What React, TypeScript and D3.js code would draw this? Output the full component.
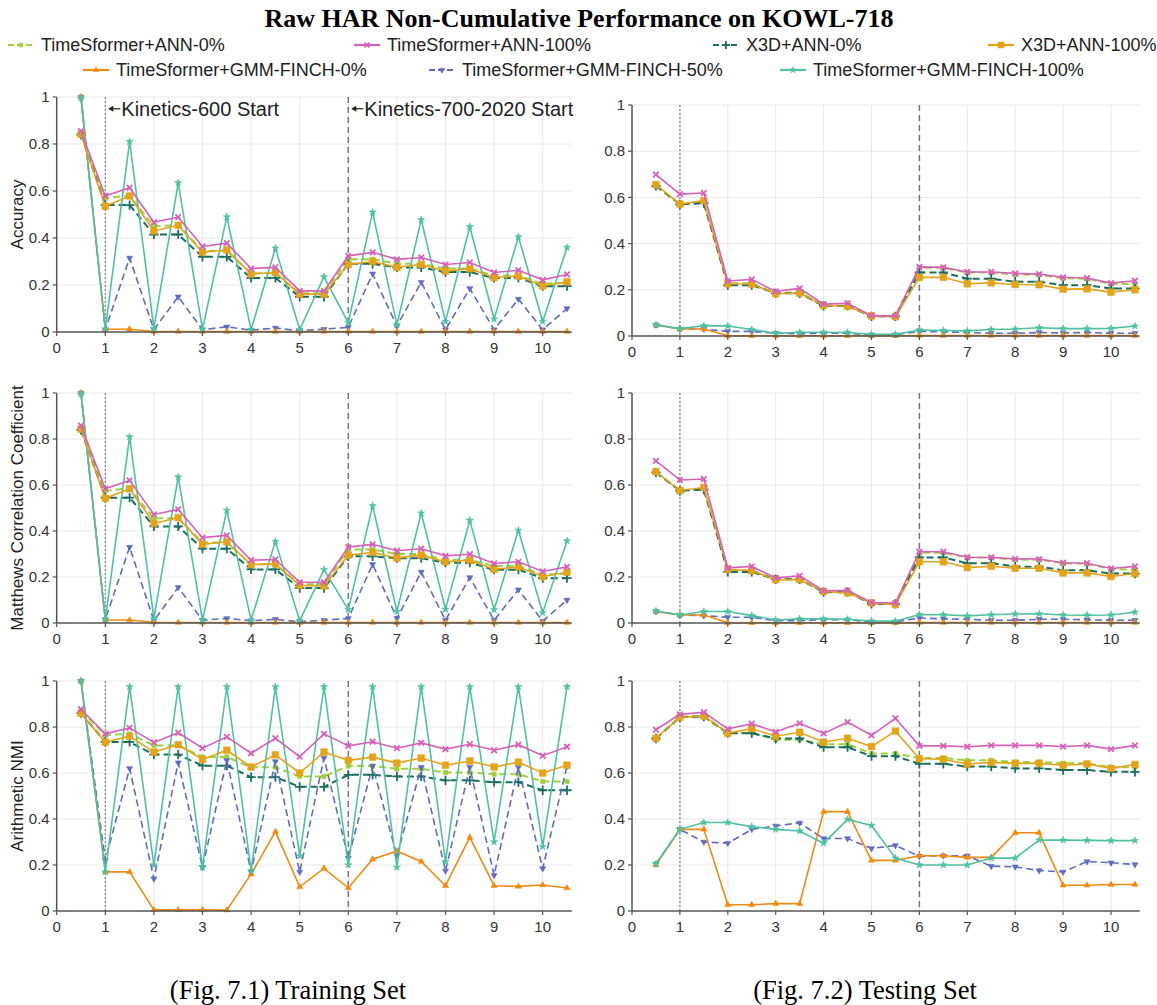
import React from 'react';
import * as d3 from 'd3';

// ---------- data ----------
const X = [0.5, 1, 1.5, 2, 2.5, 3, 3.5, 4, 4.5, 5, 5.5, 6, 6.5, 7, 7.5, 8, 8.5, 9, 9.5, 10, 10.5];

const SERIES = [
  'TimeSformer+ANN-0%',
  'TimeSformer+ANN-100%',
  'X3D+ANN-0%',
  'X3D+ANN-100%',
  'TimeSformer+GMM-FINCH-0%',
  'TimeSformer+GMM-FINCH-50%',
  'TimeSformer+GMM-FINCH-100%',
];

const Y_TICKS = [0, 0.2, 0.4, 0.6, 0.8, 1];
const X_TICKS = [0, 1, 2, 3, 4, 5, 6, 7, 8, 9, 10];

// Training accuracy
const trainAccTsAnn0 = [0.845, 0.57, 0.58, 0.45, 0.455, 0.345, 0.345, 0.25, 0.25, 0.165, 0.165, 0.31, 0.31, 0.29, 0.29, 0.27, 0.27, 0.24, 0.24, 0.205, 0.21];
const trainAccTsAnn100 = [0.855, 0.579, 0.614, 0.467, 0.489, 0.364, 0.378, 0.27, 0.275, 0.175, 0.175, 0.324, 0.339, 0.309, 0.317, 0.287, 0.296, 0.253, 0.263, 0.222, 0.245];
const trainAccX3dAnn0 = [0.84, 0.54, 0.54, 0.415, 0.415, 0.32, 0.32, 0.23, 0.23, 0.15, 0.15, 0.29, 0.29, 0.275, 0.275, 0.255, 0.255, 0.23, 0.23, 0.195, 0.195];
const trainAccX3dAnn100 = [0.842, 0.535, 0.579, 0.43, 0.454, 0.339, 0.35, 0.247, 0.253, 0.161, 0.161, 0.287, 0.3, 0.275, 0.287, 0.259, 0.269, 0.232, 0.238, 0.196, 0.213];
const trainAccGmm0 = [1, 0.012, 0.012, 0.002, 0.002, 0.002, 0.002, 0.002, 0.002, 0.002, 0.002, 0.002, 0.002, 0.002, 0.002, 0.002, 0.002, 0.002, 0.002, 0.002, 0.002];
const trainAccGmm50 = [1, 0.01, 0.315, 0.01, 0.15, 0.01, 0.022, 0.008, 0.017, 0.005, 0.012, 0.02, 0.248, 0.025, 0.212, 0.01, 0.185, 0.01, 0.14, 0.01, 0.1];
const trainAccGmm100 = [0.995, 0.012, 0.81, 0.015, 0.635, 0.012, 0.49, 0.01, 0.357, 0.01, 0.235, 0.04, 0.51, 0.03, 0.478, 0.045, 0.448, 0.055, 0.405, 0.045, 0.36];

// Testing accuracy
const testAccTsAnn0 = [0.652, 0.57, 0.58, 0.228, 0.228, 0.186, 0.19, 0.132, 0.132, 0.086, 0.086, 0.295, 0.295, 0.275, 0.275, 0.265, 0.265, 0.25, 0.248, 0.225, 0.225];
const testAccTsAnn100 = [0.699, 0.614, 0.619, 0.238, 0.245, 0.193, 0.206, 0.138, 0.142, 0.088, 0.087, 0.299, 0.297, 0.277, 0.277, 0.271, 0.268, 0.254, 0.251, 0.229, 0.239];
const testAccX3dAnn0 = [0.65, 0.57, 0.575, 0.22, 0.22, 0.185, 0.185, 0.13, 0.13, 0.085, 0.085, 0.275, 0.275, 0.248, 0.248, 0.235, 0.235, 0.22, 0.22, 0.206, 0.206];
const testAccX3dAnn100 = [0.655, 0.571, 0.586, 0.226, 0.225, 0.183, 0.186, 0.132, 0.129, 0.087, 0.084, 0.254, 0.254, 0.226, 0.23, 0.223, 0.222, 0.203, 0.204, 0.19, 0.2];
const testAccGmm0 = [0.048, 0.03, 0.03, 0.001, 0.001, 0.001, 0.001, 0.001, 0.001, 0.001, 0.001, 0.002, 0.002, 0.002, 0.002, 0.002, 0.002, 0.002, 0.002, 0.002, 0.002];
const testAccGmm50 = [0.048, 0.03, 0.03, 0.02, 0.02, 0.012, 0.01, 0.012, 0.012, 0.005, 0.005, 0.02, 0.018, 0.015, 0.012, 0.012, 0.015, 0.013, 0.015, 0.012, 0.012];
const testAccGmm100 = [0.048, 0.032, 0.045, 0.043, 0.028, 0.012, 0.016, 0.016, 0.015, 0.007, 0.007, 0.026, 0.024, 0.022, 0.028, 0.03, 0.036, 0.032, 0.032, 0.033, 0.043];

// Training MCC
const trainMccTsAnn0 = [0.845, 0.575, 0.585, 0.455, 0.455, 0.35, 0.35, 0.255, 0.255, 0.168, 0.168, 0.32, 0.32, 0.3, 0.3, 0.275, 0.275, 0.248, 0.248, 0.21, 0.215];
const trainMccTsAnn100 = [0.858, 0.584, 0.62, 0.472, 0.494, 0.371, 0.381, 0.273, 0.276, 0.177, 0.177, 0.33, 0.342, 0.314, 0.323, 0.292, 0.299, 0.259, 0.266, 0.224, 0.244];
const trainMccX3dAnn0 = [0.84, 0.545, 0.545, 0.42, 0.42, 0.323, 0.323, 0.233, 0.233, 0.152, 0.152, 0.29, 0.29, 0.282, 0.282, 0.262, 0.262, 0.232, 0.232, 0.195, 0.195];
const trainMccX3dAnn100 = [0.843, 0.542, 0.584, 0.433, 0.458, 0.342, 0.353, 0.254, 0.257, 0.164, 0.161, 0.295, 0.307, 0.283, 0.295, 0.266, 0.273, 0.234, 0.243, 0.202, 0.221];
const trainMccGmm0 = [1, 0.013, 0.013, 0.003, 0.002, 0.002, 0.002, 0.002, 0.002, 0.002, 0.002, 0.002, 0.002, 0.002, 0.002, 0.002, 0.002, 0.002, 0.002, 0.002, 0.002];
const trainMccGmm50 = [1, 0.015, 0.33, 0.01, 0.155, 0.012, 0.02, 0.01, 0.016, 0.005, 0.012, 0.02, 0.255, 0.02, 0.222, 0.012, 0.198, 0.012, 0.145, 0.008, 0.1];
const trainMccGmm100 = [0.995, 0.015, 0.81, 0.02, 0.635, 0.012, 0.49, 0.012, 0.355, 0.01, 0.232, 0.058, 0.51, 0.05, 0.478, 0.06, 0.447, 0.058, 0.403, 0.045, 0.357];

// Testing MCC
const testMccTsAnn0 = [0.656, 0.575, 0.585, 0.23, 0.228, 0.19, 0.19, 0.136, 0.134, 0.086, 0.084, 0.305, 0.305, 0.285, 0.285, 0.275, 0.275, 0.26, 0.258, 0.235, 0.232];
const testMccTsAnn100 = [0.705, 0.622, 0.626, 0.24, 0.246, 0.196, 0.205, 0.14, 0.142, 0.089, 0.087, 0.31, 0.31, 0.286, 0.285, 0.279, 0.278, 0.262, 0.26, 0.237, 0.246];
const testMccX3dAnn0 = [0.655, 0.575, 0.58, 0.222, 0.222, 0.19, 0.19, 0.134, 0.134, 0.083, 0.083, 0.285, 0.285, 0.26, 0.26, 0.245, 0.245, 0.229, 0.229, 0.215, 0.215];
const testMccX3dAnn100 = [0.658, 0.576, 0.589, 0.233, 0.227, 0.188, 0.189, 0.137, 0.131, 0.087, 0.08, 0.266, 0.266, 0.241, 0.247, 0.238, 0.238, 0.218, 0.218, 0.202, 0.215];
const testMccGmm0 = [0.05, 0.035, 0.035, 0.001, 0.001, 0.001, 0.001, 0.001, 0.001, 0.001, 0.001, 0.002, 0.002, 0.002, 0.002, 0.002, 0.002, 0.002, 0.002, 0.002, 0.002];
const testMccGmm50 = [0.05, 0.035, 0.032, 0.025, 0.025, 0.01, 0.01, 0.014, 0.014, 0.005, 0.005, 0.022, 0.018, 0.016, 0.012, 0.012, 0.016, 0.016, 0.014, 0.012, 0.012];
const testMccGmm100 = [0.052, 0.035, 0.05, 0.05, 0.032, 0.013, 0.018, 0.018, 0.016, 0.008, 0.008, 0.037, 0.036, 0.031, 0.036, 0.039, 0.04, 0.035, 0.034, 0.035, 0.047];

// Training NMI
const trainNmiTsAnn0 = [0.87, 0.765, 0.77, 0.72, 0.72, 0.67, 0.67, 0.625, 0.625, 0.585, 0.585, 0.63, 0.63, 0.618, 0.618, 0.602, 0.602, 0.595, 0.595, 0.563, 0.563];
const trainNmiTsAnn100 = [0.877, 0.77, 0.796, 0.733, 0.775, 0.708, 0.757, 0.686, 0.751, 0.671, 0.77, 0.718, 0.736, 0.708, 0.731, 0.704, 0.725, 0.699, 0.723, 0.675, 0.714];
const trainNmiX3dAnn0 = [0.86, 0.735, 0.735, 0.68, 0.68, 0.632, 0.632, 0.582, 0.582, 0.54, 0.54, 0.592, 0.592, 0.585, 0.585, 0.568, 0.568, 0.56, 0.56, 0.525, 0.525];
const trainNmiX3dAnn100 = [0.86, 0.734, 0.76, 0.691, 0.723, 0.659, 0.699, 0.626, 0.679, 0.6, 0.691, 0.655, 0.669, 0.643, 0.665, 0.634, 0.652, 0.626, 0.647, 0.6, 0.634];
const trainNmiGmm0 = [1, 0.17, 0.17, 0.005, 0.005, 0.005, 0.004, 0.16, 0.345, 0.105, 0.185, 0.1, 0.225, 0.26, 0.215, 0.11, 0.32, 0.11, 0.107, 0.113, 0.1];
const trainNmiGmm50 = [1, 0.22, 0.62, 0.14, 0.645, 0.19, 0.655, 0.17, 0.65, 0.17, 0.665, 0.23, 0.63, 0.24, 0.625, 0.175, 0.625, 0.155, 0.625, 0.185, 0.63];
const trainNmiGmm100 = [1, 0.17, 0.975, 0.2, 0.975, 0.19, 0.975, 0.175, 0.975, 0.24, 0.975, 0.2, 0.975, 0.19, 0.975, 0.215, 0.975, 0.3, 0.975, 0.28, 0.975];

// Testing NMI
const testNmiTsAnn0 = [0.75, 0.845, 0.85, 0.775, 0.775, 0.745, 0.745, 0.725, 0.725, 0.685, 0.685, 0.665, 0.665, 0.655, 0.655, 0.648, 0.648, 0.642, 0.642, 0.625, 0.625];
const testNmiTsAnn100 = [0.788, 0.855, 0.864, 0.792, 0.814, 0.779, 0.816, 0.772, 0.821, 0.764, 0.838, 0.718, 0.718, 0.714, 0.72, 0.72, 0.72, 0.715, 0.72, 0.704, 0.72];
const testNmiX3dAnn0 = [0.75, 0.842, 0.845, 0.773, 0.773, 0.75, 0.75, 0.712, 0.712, 0.673, 0.673, 0.64, 0.64, 0.628, 0.628, 0.62, 0.62, 0.613, 0.613, 0.605, 0.605];
const testNmiX3dAnn100 = [0.751, 0.842, 0.848, 0.773, 0.793, 0.76, 0.777, 0.734, 0.751, 0.715, 0.782, 0.662, 0.66, 0.639, 0.646, 0.642, 0.642, 0.634, 0.639, 0.62, 0.637];
const testNmiGmm0 = [0.2, 0.355, 0.355, 0.027, 0.027, 0.032, 0.032, 0.432, 0.432, 0.22, 0.22, 0.24, 0.24, 0.233, 0.233, 0.34, 0.34, 0.112, 0.112, 0.115, 0.115];
const testNmiGmm50 = [0.205, 0.355, 0.3, 0.295, 0.355, 0.37, 0.383, 0.315, 0.315, 0.272, 0.285, 0.238, 0.24, 0.24, 0.195, 0.192, 0.176, 0.17, 0.215, 0.21, 0.202];
const testNmiGmm100 = [0.205, 0.355, 0.385, 0.385, 0.367, 0.355, 0.348, 0.295, 0.398, 0.372, 0.23, 0.2, 0.2, 0.2, 0.23, 0.23, 0.308, 0.308, 0.307, 0.306, 0.306];

const PANEL_DATA = {
  trainAcc: [trainAccTsAnn0, trainAccTsAnn100, trainAccX3dAnn0, trainAccX3dAnn100, trainAccGmm0, trainAccGmm50, trainAccGmm100],
  testAcc: [testAccTsAnn0, testAccTsAnn100, testAccX3dAnn0, testAccX3dAnn100, testAccGmm0, testAccGmm50, testAccGmm100],
  trainMcc: [trainMccTsAnn0, trainMccTsAnn100, trainMccX3dAnn0, trainMccX3dAnn100, trainMccGmm0, trainMccGmm50, trainMccGmm100],
  testMcc: [testMccTsAnn0, testMccTsAnn100, testMccX3dAnn0, testMccX3dAnn100, testMccGmm0, testMccGmm50, testMccGmm100],
  trainNmi: [trainNmiTsAnn0, trainNmiTsAnn100, trainNmiX3dAnn0, trainNmiX3dAnn100, trainNmiGmm0, trainNmiGmm50, trainNmiGmm100],
  testNmi: [testNmiTsAnn0, testNmiTsAnn100, testNmiX3dAnn0, testNmiX3dAnn100, testNmiGmm0, testNmiGmm50, testNmiGmm100],
};

// ---------- styles ----------
type Style = { color: string; dash?: string; symbol: string; size: number; width: number };
const STYLES: Style[] = [
  { color: '#9fd03c', dash: '7,4', symbol: 'square', size: 18, width: 2 },
  { color: '#d462b8', symbol: 'times', size: 22, width: 1.6 },
  { color: '#1d6e5e', dash: '7,4', symbol: 'plus', size: 30, width: 2 },
  { color: '#e3a41c', symbol: 'square', size: 44, width: 1.6 },
  { color: '#f08a12', symbol: 'triUp', size: 16, width: 1.6 },
  { color: '#5f6cbe', dash: '7,4', symbol: 'triDown', size: 16, width: 1.6 },
  { color: '#4fc1a0', symbol: 'star', size: 16, width: 1.6 },
];
const DRAW_ORDER = [0, 2, 5, 4, 6, 3, 1];

const FONT = '"Liberation Sans", Arial, sans-serif';
const SERIF = '"Liberation Serif", "Times New Roman", serif';

function Marker({ kind, x, y, size, color }: { kind: string; x: number; y: number; size: number; color: string }) {
  let path = '';
  let stroke = false;
  if (kind === 'square') path = d3.symbol().type(d3.symbolSquare).size(size)()!;
  else if (kind === 'times') { path = d3.symbol().type(d3.symbolTimes).size(size)()!; stroke = true; }
  else if (kind === 'plus') { path = d3.symbol().type(d3.symbolPlus).size(size)()!; stroke = true; }
  else if (kind === 'triUp') path = d3.symbol().type(d3.symbolTriangle).size(size)()!;
  else if (kind === 'triDown') path = d3.symbol().type(d3.symbolTriangle).size(size)()!;
  else if (kind === 'star') path = d3.symbol().type(d3.symbolStar).size(size)()!;
  const rot = kind === 'triDown' ? ' rotate(180)' : '';
  return (
    <path
      d={path}
      transform={`translate(${x},${y})${rot}`}
      fill={stroke ? 'none' : color}
      stroke={color}
      strokeWidth={stroke ? 1.8 : 0.6}
    />
  );
}

type PanelProps = {
  dataKey: keyof typeof PANEL_DATA;
  x0: number;
  unit: number;
  yTop: number;
  yBot: number;
  ylabel?: string;
  annotate?: boolean;
};

function Panel({ dataKey, x0, unit, yTop, yBot, ylabel, annotate }: PanelProps) {
  const xs = d3.scaleLinear().domain([0, 10.6]).range([x0, x0 + unit * 10.6]);
  const ys = d3.scaleLinear().domain([0, 1]).range([yBot, yTop]);
  const [xMin, xMax] = xs.range();
  const series = PANEL_DATA[dataKey];
  const line = d3
    .line<number>()
    .x((_, i) => xs(X[i]))
    .y((d) => ys(d));
  return (
    <g>
      {X_TICKS.filter((t) => t > 0).map((t) => (
        <line key={'gx' + t} x1={xs(t)} x2={xs(t)} y1={yTop} y2={yBot} stroke="#e8e8e8" strokeWidth={1} />
      ))}
      {Y_TICKS.filter((t) => t > 0).map((t) => (
        <line key={'gy' + t} x1={xMin} x2={xMax} y1={ys(t)} y2={ys(t)} stroke="#e8e8e8" strokeWidth={1} />
      ))}
      <line x1={xs(1)} x2={xs(1)} y1={yTop} y2={yBot} stroke="#888" strokeWidth={1.3} strokeDasharray="2,2" />
      <line x1={xs(6)} x2={xs(6)} y1={yTop} y2={yBot} stroke="#777" strokeWidth={1.5} strokeDasharray="6,4" />
      {DRAW_ORDER.map((si) => {
        const st = STYLES[si];
        const vals = series[si];
        return (
          <g key={si}>
            <path d={line(vals)!} fill="none" stroke={st.color} strokeWidth={st.width} strokeDasharray={st.dash} />
            {vals.map((v, i) => (
              <Marker key={i} kind={st.symbol} x={xs(X[i])} y={ys(v)} size={st.size} color={st.color} />
            ))}
          </g>
        );
      })}
      <line x1={xMin} x2={xMax} y1={yBot} y2={yBot} stroke="#555" strokeWidth={1.5} />
      <line x1={xMin} x2={xMin} y1={yTop} y2={yBot} stroke="#555" strokeWidth={1.5} />
      {Y_TICKS.map((t) => (
        <g key={'yt' + t}>
          <line x1={xMin - 4} x2={xMin} y1={ys(t)} y2={ys(t)} stroke="#555" strokeWidth={1.2} />
          <text x={xMin - 7} y={ys(t)} dy="0.35em" textAnchor="end" fontSize={15} fill="#333" fontFamily={FONT}>
            {String(t)}
          </text>
        </g>
      ))}
      {X_TICKS.map((t) => (
        <g key={'xt' + t}>
          <line x1={xs(t)} x2={xs(t)} y1={yBot} y2={yBot + 4} stroke="#555" strokeWidth={1.2} />
          <text x={xs(t)} y={yBot + 16} dy="0.35em" textAnchor="middle" fontSize={15} fill="#333" fontFamily={FONT}>
            {String(t)}
          </text>
        </g>
      ))}
      {ylabel && (
        <text
          transform={`translate(17,${(yTop + yBot) / 2}) rotate(-90)`}
          dy="0.35em"
          textAnchor="middle"
          fontSize={17}
          fill="#222"
          fontFamily={FONT}
        >
          {ylabel}
        </text>
      )}
      {annotate && (
        <g fontFamily={FONT} fontSize={20} fill="#222">
          {[1, 6].map((xv) => (
            <g key={xv}>
              <line x1={xs(xv) + 4} x2={xs(xv) + 15} y1={ys(0.95)} y2={ys(0.95)} stroke="#222" strokeWidth={1.2} />
              <path d={`M${xs(xv) + 3},${ys(0.95)} l5,-3 l0,6 z`} fill="#222" />
            </g>
          ))}
          <text x={xs(1) + 16} y={ys(0.95)} dy="0.35em">Kinetics-600 Start</text>
          <text x={xs(6) + 16} y={ys(0.95)} dy="0.35em">Kinetics-700-2020 Start</text>
        </g>
      )}
    </g>
  );
}

const LEGEND_POS = [
  { x: 8, y: 45 },
  { x: 354, y: 45 },
  { x: 713, y: 45 },
  { x: 988, y: 45 },
  { x: 83, y: 70 },
  { x: 429, y: 70 },
  { x: 780, y: 70 },
];

export default function App() {
  const L = { x0: 56.7, unit: 48.6 };
  const R = { x0: 632, unit: 47.9 };
  return (
    <svg
      width={1157}
      height={1005}
      style={{ position: 'absolute', left: 0, top: 0, background: '#fff' }}
      xmlns="http://www.w3.org/2000/svg"
    >
      <rect width={1157} height={1005} fill="#fff" />
      <text x={579} y={18} dy="0.35em" textAnchor="middle" fontFamily={SERIF} fontWeight="bold" fontSize={26} fill="#000">
        Raw HAR Non-Cumulative Performance on KOWL-718
      </text>
      {SERIES.map((name, i) => {
        const st = STYLES[i];
        const p = LEGEND_POS[i];
        return (
          <g key={name}>
            <line x1={p.x} x2={p.x + 26} y1={p.y} y2={p.y} stroke={st.color} strokeWidth={2.2} strokeDasharray={st.dash ? '6,3' : undefined} />
            <Marker kind={st.symbol} x={p.x + 13} y={p.y} size={st.size * 0.8} color={st.color} />
            <text x={p.x + 33} y={p.y} dy="0.35em" fontSize={18} fill="#222" fontFamily={FONT}>
              {name}
            </text>
          </g>
        );
      })}
      <Panel dataKey="trainAcc" {...L} yTop={97} yBot={332} ylabel="Accuracy" annotate />
      <Panel dataKey="testAcc" {...R} yTop={105} yBot={336} />
      <Panel dataKey="trainMcc" {...L} yTop={393} yBot={623} ylabel="Matthews Correlation Coefficient" />
      <Panel dataKey="testMcc" {...R} yTop={393} yBot={623} />
      <Panel dataKey="trainNmi" {...L} yTop={681} yBot={911} ylabel="Arithmetic NMI" />
      <Panel dataKey="testNmi" {...R} yTop={681} yBot={911} />
      <text x={288} y={990} dy="0.35em" textAnchor="middle" fontFamily={SERIF} fontSize={26.5} fill="#000">
        (Fig. 7.1) Training Set
      </text>
      <text x={865} y={990} dy="0.35em" textAnchor="middle" fontFamily={SERIF} fontSize={26.5} fill="#000">
        (Fig. 7.2) Testing Set
      </text>
    </svg>
  );
}
